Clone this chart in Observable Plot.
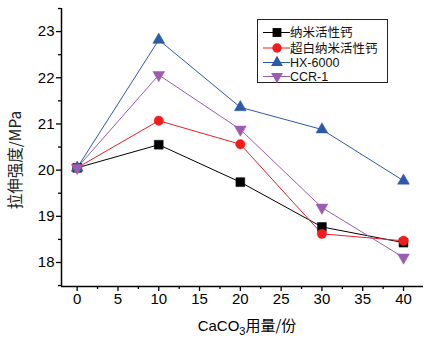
<!DOCTYPE html>
<html><head><meta charset="utf-8">
<script src="https://cdn.jsdelivr.net/npm/d3@7"></script>
<script src="https://cdn.jsdelivr.net/npm/@observablehq/plot@0.6"></script>
<style>
body{margin:0;background:#fff}
#c{position:relative;width:435px;height:338px;font-family:"Liberation Sans",Arial,sans-serif}
#legend{position:absolute;left:257px;top:19px}
</style>
</head><body><div id="c"></div>
<script>
const doses = [0, 10, 20, 30, 40];
const seriesNames = ["纳米活性钙", "超白纳米活性钙", "HX-6000", "CCR-1"];
const nano = [20.05, 20.55, 19.74, 18.77, 18.43];
const ultraWhite = [20.05, 21.07, 20.56, 18.62, 18.47];
const hx6000 = [20.05, 22.82, 21.36, 20.88, 19.77];
const ccr1 = [20.05, 22.06, 20.88, 19.19, 18.11];
const xTicks = [0, 5, 10, 15, 20, 25, 30, 35, 40];
const yTicks = [18, 19, 20, 21, 22, 23];
const xTitle = "CaCO";
const xTitleSub = "3";
const xTitleRest = "用量/份";
const yTitle = "拉伸强度/MPa";

const downTriangle = {
  draw(context, size) {
    const y = -Math.sqrt(size / (Math.sqrt(3) * 3));
    const s3 = Math.sqrt(3);
    context.moveTo(0, -y * 2);
    context.lineTo(-s3 * y, y);
    context.lineTo(s3 * y, y);
    context.closePath();
  }
};

const styles = [
  {line: "#000000", fill: "#000000", symbol: "square", r: 5},
  {line: "#e8202a", fill: "#f21c1c", symbol: "circle", r: 4.7},
  {line: "#2d5aa6", fill: "#2d5aa6", symbol: "triangle", r: 4.4},
  {line: "#9b5cb2", fill: "#9b5cb2", symbol: downTriangle, r: 4.4}
];
const allValues = [nano, ultraWhite, hx6000, ccr1];
const data = [];
allValues.forEach((vals, i) => vals.forEach((v, j) => data.push({s: i, x: doses[j], y: v})));

const xDomain = [-1.92, 42.45];
const yDomain = [17.48, 23.5];
const xMinor = d3.range(0, 42.4, 2.5).filter(v => !xTicks.includes(v));
const yMinor = d3.range(17.5, 23.51, 0.5).filter(v => !yTicks.includes(v));

const marks = [];
styles.forEach((st, i) => {
  const d = data.filter(o => o.s === i);
  marks.push(Plot.line(d, {x: "x", y: "y", stroke: st.line, strokeWidth: 1}));
});
styles.forEach((st, i) => {
  const d = data.filter(o => o.s === i);
  marks.push(Plot.dot(d, {x: "x", y: "y", symbol: st.symbol, r: st.r, fill: st.fill, stroke: st.fill, strokeWidth: 0.5}));
});

const plot = Plot.plot({
  width: 435, height: 338,
  marginLeft: 61, marginRight: 12, marginTop: 8, marginBottom: 52,
  style: {fontFamily: '"Liberation Sans", Arial, sans-serif', fontSize: "15px", color: "#000", background: "#fff"},
  x: {domain: xDomain},
  y: {domain: yDomain},
  marks: [
    Plot.axisX({ticks: xTicks, tickFormat: "d", tickSize: 5, tickPadding: 2, label: null, fontSize: 15, strokeWidth: 1.3}),
    Plot.axisX({ticks: xMinor, tickSize: 3, text: null, label: null, strokeWidth: 1.3}),
    Plot.axisY({ticks: yTicks, tickFormat: "d", tickSize: 5, tickPadding: 2, label: null, fontSize: 15, strokeWidth: 1.3}),
    Plot.axisY({ticks: yMinor, tickSize: 3, text: null, label: null, strokeWidth: 1.3}),
    Plot.ruleY([yDomain[0]], {stroke: "#000", strokeWidth: 1.5}),
    Plot.ruleX([xDomain[0]], {stroke: "#000", strokeWidth: 1.5}),
    ...marks
  ]
});
document.getElementById("c").appendChild(plot);

const svg = d3.select(plot);
const xt = svg.append("text")
  .attr("x", 247).attr("y", 331)
  .attr("text-anchor", "middle")
  .attr("font-size", 15)
  .attr("fill", "#000")
  .attr("font-family", '"Liberation Sans","Noto Sans CJK SC",sans-serif');
xt.append("tspan").text(xTitle);
xt.append("tspan").attr("font-size", 11).attr("dy", 4).text(xTitleSub);
xt.append("tspan").attr("dy", -4).attr("font-family", '"Noto Sans CJK SC",sans-serif').text(xTitleRest);

svg.append("text")
  .attr("transform", "translate(21,160) rotate(-90)")
  .attr("text-anchor", "middle")
  .attr("font-size", 15.5)
  .attr("fill", "#222")
  .attr("font-family", '"Noto Sans CJK SC","Liberation Sans",sans-serif')
  .text(yTitle);

// legend
const lg = d3.select("#c").append("svg").attr("id", "legend").attr("width", 131).attr("height", 64);
lg.append("rect").attr("x", 0.5).attr("y", 0.5).attr("width", 130).attr("height", 63)
  .attr("fill", "#fff").attr("stroke", "#222").attr("stroke-width", 1);
const rowY = [13.5, 29, 43.5, 57.5];
seriesNames.forEach((name, i) => {
  const st = styles[i];
  const g = lg.append("g").attr("transform", `translate(0,${rowY[i]})`);
  g.append("line").attr("x1", 6).attr("x2", 33).attr("y1", 0).attr("y2", 0).attr("stroke", st.line).attr("stroke-width", 1);
  const sym = typeof st.symbol === "string"
    ? {square: d3.symbolSquare, circle: d3.symbolCircle, triangle: d3.symbolTriangle}[st.symbol]
    : st.symbol;
  g.append("path").attr("transform", "translate(20,0)")
    .attr("d", d3.symbol(sym, Math.PI * st.r * st.r)())
    .attr("fill", st.fill);
  g.append("text").attr("x", 33).attr("y", 0).attr("dy", "0.36em")
    .attr("font-size", 12.5).attr("fill", "#111")
    .attr("font-family", '"Liberation Sans","Noto Sans CJK SC",sans-serif')
    .text(name);
});
</script>
</body></html>
